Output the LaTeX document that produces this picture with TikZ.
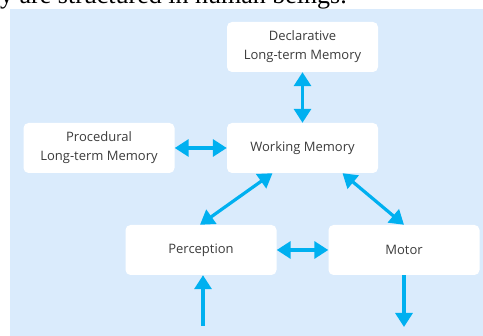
\documentclass[tikz,border=0pt]{standalone}
\usepackage{fontspec}
\setmainfont{Open Sans}
\newfontfamily\bodyserif{Liberation Serif}
\usetikzlibrary{arrows.meta}
\definecolor{panel}{RGB}{218,235,252}
\definecolor{flow}{RGB}{0,176,240}
\definecolor{boxtext}{RGB}{60,60,60}
\tikzset{membox/.style={fill=white,rounded corners=5pt,minimum width=151pt,minimum height=50pt,
           align=center,text=boxtext,font=\fontsize{13}{19}\selectfont,inner sep=2pt},
         link/.style={draw=flow,line width=3.2pt,{Triangle[length=14pt,width=17pt]}-{Triangle[length=14pt,width=17pt]}},
         onelink/.style={draw=flow,line width=3.2pt,-{Triangle[length=14pt,width=17pt]}}}

\begin{document}
\begin{tikzpicture}[x=1pt,y=1pt]
  \useasboundingbox (0,0) rectangle (483,336);
  \clip (0,0) rectangle (483,336);
  % page text above the figure, cut off at the top
  \node[anchor=base west,inner sep=0pt,font=\bodyserif\fontsize{26}{30}\selectfont] (caption) at (0,332) {y are structured in human beings.};
  \fill[panel] (10,0) rectangle (483,327);

  \node[membox] (decl) at (302.5,289) {Declarative\\Long-term Memory};
  \node[membox] (proc) at (99,188) {Procedural\\Long-term Memory};
  \node[membox] (wm) at (302.5,188) {Working Memory};
  \node[membox] (perc) at (201,86) {Perception};
  \node[membox] (motor) at (404,86) {Motor};
  \coordinate (sense) at (203,10);
  \coordinate (act) at (404,9);

  \draw[link] (decl.south) -- (wm.north);
  \draw[link] (proc.east) -- (wm.west);
  \draw[link] ([xshift=-30pt]wm.south) -- ([xshift=-1pt]perc.north);
  \draw[link] ([xshift=40pt]wm.south) -- (motor.north);
  \draw[link] (perc.east) -- (motor.west);
  \draw[onelink] (sense) -- ([xshift=2pt]perc.south);
  \draw[onelink] (motor.south) -- (act);
\end{tikzpicture}
\end{document}
